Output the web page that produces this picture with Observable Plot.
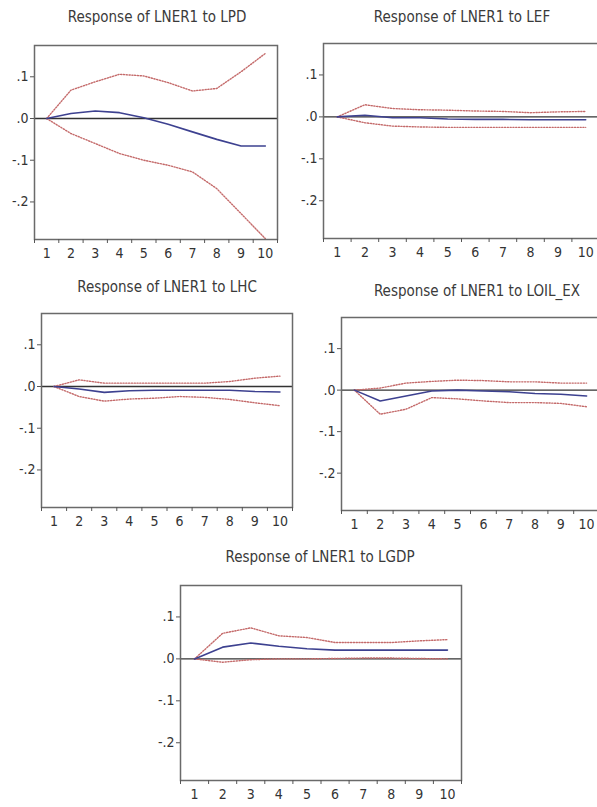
<!DOCTYPE html>
<html>
<head>
<meta charset="utf-8">
<script src="https://cdn.jsdelivr.net/npm/d3@7"></script>
<script src="https://cdn.jsdelivr.net/npm/@observablehq/plot@0.6"></script>
<style>
  html, body { margin: 0; padding: 0; background: #fff; overflow: hidden; }
  #fig { position: relative; width: 597px; height: 807px; overflow: hidden; background: #fff; }
  .ttl { position: absolute; width: 320px; text-align: center; font-family: "Liberation Sans Narrow", "Arial Narrow", "DejaVu Sans Condensed", sans-serif; font-size: 15px; line-height: 15px; color: #3a3a3a; white-space: nowrap; }
  .pnl { position: absolute; }
  .pnl svg { max-width: none !important; }
</style>
</head>
<body>
<div id="fig"></div>
<script>
// ---- data ----
const periods = [1, 2, 3, 4, 5, 6, 7, 8, 9, 10];
const yTickValues = [0.1, 0, -0.1, -0.2];
const yTickLabels = [".1", ".0", "-.1", "-.2"];

const titles = [
  "Response of LNER1 to LPD",
  "Response of LNER1 to LEF",
  "Response of LNER1 to LHC",
  "Response of LNER1 to LOIL_EX",
  "Response of LNER1 to LGDP"
];

const lpdResp  = [0, 0.012, 0.018, 0.014, 0.002, -0.014, -0.032, -0.050, -0.066, -0.066];
const lpdUpper = [0, 0.068, 0.088, 0.106, 0.102, 0.086, 0.066, 0.072, 0.112, 0.156];
const lpdLower = [0, -0.036, -0.060, -0.084, -0.100, -0.112, -0.128, -0.168, -0.228, -0.288];

const lefResp  = [0, 0.004, -0.002, -0.002, -0.005, -0.006, -0.006, -0.007, -0.007, -0.007];
const lefUpper = [0, 0.029, 0.020, 0.017, 0.016, 0.014, 0.013, 0.010, 0.012, 0.013];
const lefLower = [0, -0.014, -0.022, -0.024, -0.025, -0.025, -0.025, -0.025, -0.025, -0.025];

const lhcResp  = [0, -0.006, -0.014, -0.010, -0.009, -0.009, -0.009, -0.009, -0.012, -0.013];
const lhcUpper = [0, 0.016, 0.008, 0.008, 0.008, 0.008, 0.008, 0.012, 0.020, 0.025];
const lhcLower = [0, -0.024, -0.035, -0.030, -0.028, -0.024, -0.026, -0.031, -0.039, -0.046];

const oilResp  = [0, -0.026, -0.014, -0.002, 0.000, -0.002, -0.004, -0.008, -0.010, -0.014];
const oilUpper = [0, 0.005, 0.017, 0.021, 0.024, 0.023, 0.020, 0.020, 0.017, 0.017];
const oilLower = [0, -0.058, -0.046, -0.018, -0.021, -0.026, -0.030, -0.030, -0.032, -0.040];

const gdpResp  = [0, 0.028, 0.038, 0.030, 0.024, 0.021, 0.021, 0.021, 0.021, 0.021];
const gdpUpper = [0, 0.061, 0.074, 0.055, 0.051, 0.039, 0.039, 0.039, 0.043, 0.046];
const gdpLower = [0, -0.008, -0.002, 0.000, 0.000, 0.001, 0.002, 0.002, 0.001, 0.000];

// ---- layout (frame edges in page pixels) ----
const panels = [
  {title: titles[0], resp: lpdResp, upper: lpdUpper, lower: lpdLower, L: 34, T: 45, R: 277, B: 239, cx: 157, ty: 10},
  {title: titles[1], resp: lefResp, upper: lefUpper, lower: lefLower, L: 323, T: 43, R: 599, B: 238, cx: 462, ty: 10},
  {title: titles[2], resp: lhcResp, upper: lhcUpper, lower: lhcLower, L: 41, T: 313, R: 292, B: 507, cx: 167, ty: 280},
  {title: titles[3], resp: oilResp, upper: oilUpper, lower: oilLower, L: 341, T: 317, R: 599, B: 510, cx: 477, ty: 284},
  {title: titles[4], resp: gdpResp, upper: gdpUpper, lower: gdpLower, L: 180, T: 585, R: 461, B: 780, cx: 320, ty: 550}
];

const fontFam = '"Liberation Sans Narrow", "Arial Narrow", "DejaVu Sans Condensed", sans-serif';
const fig = document.getElementById("fig");
const halfTicks = [0.5, ...periods.map(d => d + 0.5)];

for (const p of panels) {
  const ml = 40, mr = 10, mt = 5, mb = 32;
  const rows = periods.map((t, i) => ({t, resp: p.resp[i], upper: p.upper[i], lower: p.lower[i]}));
  const W = (p.R - p.L) + ml + mr;
  const chart = Plot.plot({
    width: W,
    height: (p.B - p.T) + mt + mb,
    marginLeft: ml, marginRight: mr, marginTop: mt, marginBottom: mb,
    style: {fontFamily: fontFam, fontSize: "14px", color: "#333", background: "transparent", overflow: "visible", maxWidth: "none"},
    x: {domain: [0.5, 10.5]},
    y: {domain: [-0.29, 0.175]},
    marks: [
      Plot.ruleY([0], {stroke: "#333", strokeWidth: 1.4}),
      Plot.line(rows, {x: "t", y: "upper", stroke: "#c46a6a", strokeWidth: 1.4, strokeDasharray: "1.2,1.6"}),
      Plot.line(rows, {x: "t", y: "lower", stroke: "#c46a6a", strokeWidth: 1.4, strokeDasharray: "1.2,1.6"}),
      Plot.line(rows, {x: "t", y: "resp", stroke: "#3d4190", strokeWidth: 1.6}),
      Plot.frame({stroke: "#6a6a6a", strokeWidth: 1.5}),
      Plot.axisY({ticks: yTickValues, tickSize: 4, tickPadding: 2, tickFormat: v => yTickLabels[yTickValues.indexOf(v)], label: null, stroke: "#555"}),
      Plot.axisX({ticks: halfTicks, tickSize: 4, tickFormat: () => "", label: null, stroke: "#555"}),
      Plot.axisX({ticks: periods, tickSize: 0, tickPadding: 9, tickFormat: d => String(d), label: null})
    ]
  });
  const wrap = document.createElement("div");
  wrap.className = "pnl";
  wrap.style.left = (p.L - ml) + "px";
  wrap.style.top = (p.T - mt) + "px";
  wrap.style.width = W + "px";
  wrap.appendChild(chart);
  fig.appendChild(wrap);

  const t = document.createElement("div");
  t.className = "ttl";
  t.textContent = p.title;
  t.style.left = (p.cx - 160) + "px";
  t.style.top = p.ty + "px";
  fig.appendChild(t);
}
</script>
</body>
</html>
